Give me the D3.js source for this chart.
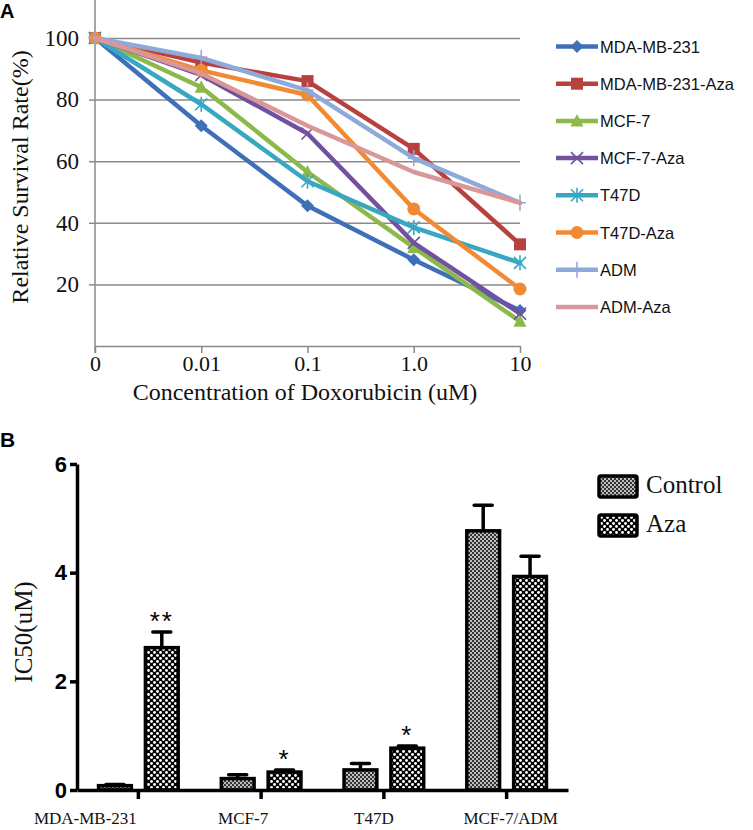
<!DOCTYPE html>
<html lang="en">
<head>
<meta charset="UTF-8">
<title>Doxorubicin survival and IC50</title>
<script src="https://cdnjs.cloudflare.com/ajax/libs/d3/7.8.5/d3.min.js"></script>
<style>
  body { margin: 0; background: #fff; }
  svg { display: block; }
  .serif { font-family: "Liberation Serif", "Times New Roman", serif; }
</style>
</head>
<body>
<svg width="753" height="830"></svg>
<script>
// Panel A data: relative survival (%) by doxorubicin concentration
const concentrations = ["0", "0.01", "0.1", "1.0", "10"];
const seriesNames = ["MDA-MB-231", "MDA-MB-231-Aza", "MCF-7", "MCF-7-Aza", "T47D", "T47D-Aza", "ADM", "ADM-Aza"];
const mdaValues = [100, 71.5, 45.5, 28, 11.5];
const mdaAzaValues = [100, 92, 86, 64, 33];
const mcf7Values = [100, 84, 56.5, 32, 8];
const mcf7AzaValues = [100, 88, 69, 33.5, 10.5];
const t47dValues = [100, 78.5, 53.5, 38.5, 27];
const t47dAzaValues = [100, 89.5, 81.5, 44.5, 18.5];
const admValues = [100, 93.5, 83, 61, 46.5];
const admAzaValues = [100, 88.5, 71.5, 56.5, 46.5];
const survivalTicks = [20, 40, 60, 80, 100];

// Panel B data: IC50 (uM)
const cellLines = ["MDA-MB-231", "MCF-7", "T47D", "MCF-7/ADM"];
const treatments = ["Control", "Aza"];
const ic50Control = [0.08, 0.21, 0.37, 4.77];
const ic50ControlErr = [0.02, 0.07, 0.12, 0.47];
const ic50Aza = [2.62, 0.33, 0.77, 3.93];
const ic50AzaErr = [0.29, 0.04, 0.04, 0.37];
const significance = ["**", "*", "*", ""];
const ic50Ticks = [0, 2, 4, 6];

// styles for each series (same order as seriesNames)
const seriesValues = [mdaValues, mdaAzaValues, mcf7Values, mcf7AzaValues, t47dValues, t47dAzaValues, admValues, admAzaValues];
const seriesColors = ["#3f6fb8", "#b8413f", "#8db84a", "#7151a0", "#38a7c2", "#f18a33", "#8eaadb", "#d9979a"];
const seriesMarkers = ["diamond", "square", "triangle", "x", "star", "circle", "plus", "none"];

const svg = d3.select("svg");
svg.append("rect").attr("width", 753).attr("height", 830).attr("fill", "#fff");

// draws one marker centred at 0,0 inside g
function drawMarker(g, type, color) {
    if (type === "diamond") {
        g.append("path").attr("d", "M0,-6.5L6.5,0L0,6.5L-6.5,0Z").attr("fill", color);
    } else if (type === "square") {
        g.append("rect").attr("x", -6).attr("y", -6).attr("width", 12).attr("height", 12).attr("fill", color);
    } else if (type === "triangle") {
        g.append("path").attr("d", "M0,-7L6.5,5.5L-6.5,5.5Z").attr("fill", color);
    } else if (type === "circle") {
        g.append("circle").attr("r", 6.5).attr("fill", color);
    } else if (type === "x") {
        g.append("path").attr("d", "M-6,-6L6,6M-6,6L6,-6").attr("stroke", color).attr("stroke-width", 1.6).attr("fill", "none");
    } else if (type === "star") {
        g.append("path").attr("d", "M-6,-6L6,6M-6,6L6,-6M0,-7.5L0,7.5").attr("stroke", color).attr("stroke-width", 1.6).attr("fill", "none");
    } else if (type === "plus") {
        g.append("path").attr("d", "M0,-8L0,8M-6,0L6,0").attr("stroke", color).attr("stroke-width", 1.6).attr("fill", "none");
    }
}

// ---------- Panel A ----------
const xA = d3.scalePoint().domain(concentrations).range([95, 520]);
const yA = d3.scaleLinear().domain([0, 100]).range([346, 38]);
const gridColor = "#8a8a8a";

const gA = svg.append("g");

// gridlines
gA.append("g")
    .attr("transform", "translate(95,0)")
    .call(d3.axisLeft(yA).tickValues(survivalTicks).tickSize(-(520 - 95)).tickFormat(""))
    .call(g => g.select(".domain").remove())
    .call(g => g.selectAll("line").attr("stroke", gridColor).attr("stroke-width", 1.5));

// y ticks and labels
gA.append("g")
    .attr("transform", "translate(95,0)")
    .call(d3.axisLeft(yA).tickValues(survivalTicks).tickSize(6).tickPadding(10))
    .call(g => g.select(".domain").remove())
    .call(g => g.selectAll("line").attr("stroke", gridColor).attr("stroke-width", 1.5))
    .call(g => g.selectAll("text").attr("class", "serif").attr("font-size", 23).attr("fill", "#111"));

// y axis line runs past the top of the figure
gA.append("line")
    .attr("x1", 95).attr("x2", 95).attr("y1", 0).attr("y2", yA(0) + 7)
    .attr("stroke", gridColor).attr("stroke-width", 1.5);

// x axis
gA.append("g")
    .attr("transform", `translate(0,${yA(0)})`)
    .call(d3.axisBottom(xA).tickSize(7).tickSizeOuter(0).tickPadding(2))
    .call(g => g.select(".domain").attr("stroke", gridColor).attr("stroke-width", 1.5))
    .call(g => g.selectAll("line").attr("stroke", gridColor).attr("stroke-width", 1.5))
    .call(g => g.selectAll("text").attr("class", "serif").attr("font-size", 22).attr("fill", "#111"));

gA.append("text")
    .attr("class", "serif")
    .attr("x", 305).attr("y", 400)
    .attr("text-anchor", "middle")
    .attr("font-size", 24)
    .attr("fill", "#111")
    .text("Concentration of Doxorubicin (uM)");

gA.append("text")
    .attr("class", "serif")
    .attr("transform", "translate(28,177) rotate(-90)")
    .attr("text-anchor", "middle")
    .attr("font-size", 24)
    .attr("fill", "#111")
    .text("Relative Survival Rate(%)");

// lines and markers
const line = d3.line()
    .x((d, i) => xA(concentrations[i]))
    .y(d => yA(d));

seriesValues.forEach((values, s) => {
    gA.append("path")
        .datum(values)
        .attr("d", line)
        .attr("fill", "none")
        .attr("stroke", seriesColors[s])
        .attr("stroke-width", 4.5)
        .attr("stroke-linejoin", "round")
        .attr("stroke-linecap", "round");

    values.forEach((v, i) => {
        const m = gA.append("g").attr("transform", `translate(${xA(concentrations[i])},${yA(v)})`);
        drawMarker(m, seriesMarkers[s], seriesColors[s]);
    });
});

// legend A
const legendA = svg.append("g");
seriesNames.forEach((name, i) => {
    const y = 46.5 + i * 37.2;
    legendA.append("line")
        .attr("x1", 556).attr("x2", 598).attr("y1", y).attr("y2", y)
        .attr("stroke", seriesColors[i]).attr("stroke-width", 4.5);
    const m = legendA.append("g").attr("transform", `translate(577,${y})`);
    drawMarker(m, seriesMarkers[i], seriesColors[i]);
    legendA.append("text")
        .attr("x", 600).attr("y", y + 6)
        .attr("font-family", "Liberation Sans, Arial, sans-serif")
        .attr("font-size", 16.5)
        .attr("fill", "#111")
        .text(name);
});

svg.append("text")
    .attr("x", 0).attr("y", 18)
    .attr("font-family", "Liberation Sans, Arial, sans-serif")
    .attr("font-weight", "bold").attr("font-size", 20)
    .text("A");

// ---------- Panel B ----------
const defs = svg.append("defs");
// fine grey stipple for Control
const pControl = defs.append("pattern")
    .attr("id", "fine").attr("patternUnits", "userSpaceOnUse")
    .attr("width", 4).attr("height", 4);
pControl.append("rect").attr("width", 4).attr("height", 4).attr("fill", "#bdbdbd");
pControl.append("rect").attr("width", 2).attr("height", 2).attr("fill", "#333");
pControl.append("rect").attr("x", 2).attr("y", 2).attr("width", 2).attr("height", 2).attr("fill", "#333");

// coarse black/white checker for Aza
const pAza = defs.append("pattern")
    .attr("id", "coarse").attr("patternUnits", "userSpaceOnUse")
    .attr("width", 6).attr("height", 6);
pAza.append("rect").attr("width", 6).attr("height", 6).attr("fill", "#000");
pAza.append("circle").attr("cx", 1.5).attr("cy", 1.5).attr("r", 1.45).attr("fill", "#fff");
pAza.append("circle").attr("cx", 4.5).attr("cy", 4.5).attr("r", 1.45).attr("fill", "#fff");

const fills = ["url(#fine)", "url(#coarse)"];

const x0 = d3.scaleBand().domain(cellLines).range([77, 568]);
const x1 = d3.scaleBand().domain(treatments).range([0, x0.bandwidth()]).paddingInner(0.3).paddingOuter(0.46);
const yB = d3.scaleLinear().domain([0, 6]).range([790, 464]);

const gB = svg.append("g");

const barData = [];
cellLines.forEach((c, i) => {
    barData.push({ line: c, t: "Control", v: ic50Control[i], e: ic50ControlErr[i], sig: "" });
    barData.push({ line: c, t: "Aza", v: ic50Aza[i], e: ic50AzaErr[i], sig: significance[i] });
});

const bars = gB.selectAll("g.bar").data(barData).enter().append("g").attr("class", "bar");
const barMid = d => x0(d.line) + x1(d.t) + x1.bandwidth() / 2;

// error bars (upper only)
bars.append("line")
    .attr("x1", barMid).attr("x2", barMid)
    .attr("y1", d => yB(d.v))
    .attr("y2", d => yB(d.v + d.e))
    .attr("stroke", "#000").attr("stroke-width", 3.5);
bars.append("line")
    .attr("x1", d => barMid(d) - 9)
    .attr("x2", d => barMid(d) + 9)
    .attr("y1", d => yB(d.v + d.e))
    .attr("y2", d => yB(d.v + d.e))
    .attr("stroke", "#000").attr("stroke-width", 3.5).attr("stroke-linecap", "round");

bars.append("rect")
    .attr("x", d => x0(d.line) + x1(d.t))
    .attr("width", x1.bandwidth())
    .attr("y", d => yB(d.v))
    .attr("height", d => yB(0) - yB(d.v))
    .attr("fill", d => fills[treatments.indexOf(d.t)])
    .attr("stroke", "#000").attr("stroke-width", 3.5);

bars.filter(d => d.sig).append("text")
    .attr("x", barMid)
    .attr("y", d => yB(d.v + d.e) - 2)
    .attr("text-anchor", "middle")
    .attr("font-family", "Liberation Sans, Arial, sans-serif")
    .attr("font-size", 26)
    .attr("letter-spacing", 2)
    .text(d => d.sig);

// axes B
gB.append("g")
    .attr("transform", "translate(77,0)")
    .call(d3.axisLeft(yB).tickValues(ic50Ticks).tickFormat(d3.format("d")).tickSize(7).tickSizeOuter(0).tickPadding(3))
    .call(g => g.select(".domain").attr("stroke-width", 3.5))
    .call(g => g.selectAll("line").attr("stroke-width", 3.5))
    .call(g => g.selectAll("text")
        .attr("font-family", "Liberation Sans, Arial, sans-serif")
        .attr("font-weight", "bold").attr("font-size", 22).attr("fill", "#000"));

// category labels sit a little off their ticks in the original figure
const labelShift = [-53, -18, -10, 4];
gB.append("g")
    .attr("transform", `translate(0,${yB(0)})`)
    .call(d3.axisBottom(x0).tickSize(9).tickSizeOuter(0).tickPadding(13))
    .call(g => g.select(".domain").attr("stroke-width", 3.5))
    .call(g => g.selectAll("line").attr("stroke-width", 3.5))
    .call(g => g.selectAll("text")
        .attr("class", "serif").attr("font-size", 17).attr("fill", "#111")
        .attr("dx", (d, i) => labelShift[i]));

gB.append("text")
    .attr("class", "serif")
    .attr("transform", "translate(32,632) rotate(-90)")
    .attr("text-anchor", "middle")
    .attr("font-size", 25)
    .attr("fill", "#111")
    .text("IC50(uM)");

// legend B
treatments.forEach((t, i) => {
    const y = 476 + i * 39;
    svg.append("rect")
        .attr("x", 599).attr("y", y).attr("width", 38).attr("height", 21)
        .attr("rx", 2)
        .attr("fill", fills[i]).attr("stroke", "#000").attr("stroke-width", 3.5);
    svg.append("text")
        .attr("class", "serif")
        .attr("x", 646).attr("y", y + 17)
        .attr("font-size", 25)
        .attr("fill", "#111")
        .text(t);
});

svg.append("text")
    .attr("x", 0).attr("y", 447)
    .attr("font-family", "Liberation Sans, Arial, sans-serif")
    .attr("font-weight", "bold").attr("font-size", 21)
    .text("B");
</script>
</body>
</html>
